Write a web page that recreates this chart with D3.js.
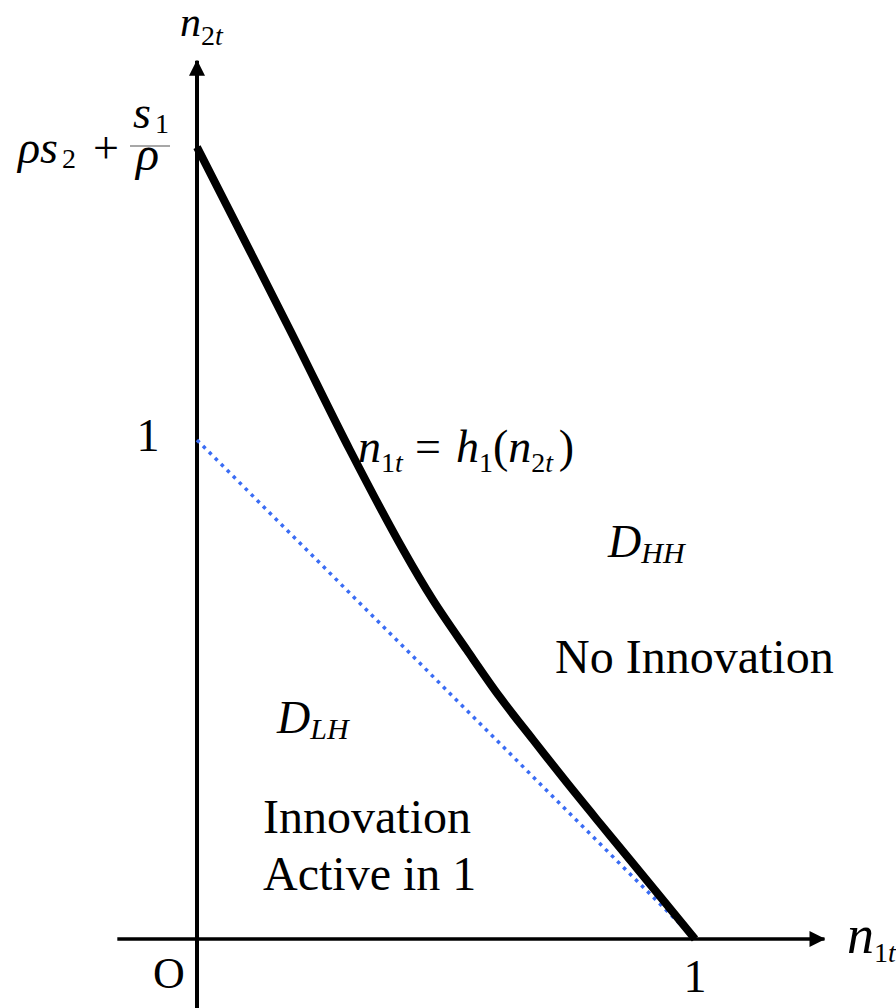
<!DOCTYPE html>
<html>
<head>
<meta charset="utf-8">
<script src="https://cdn.jsdelivr.net/npm/d3@7"></script>
<style>
  html, body { margin: 0; padding: 0; background: #fff; }
  svg text { font-family: "Liberation Serif", "Times New Roman", serif; fill: #000; }
</style>
</head>
<body>
<script>
"use strict";
// boundary curve n1t = h1(n2t)
const curveN1 = [0, 0.187, 0.307, 0.414, 0.474, 0.542, 0.608, 0.675, 0.743, 0.809, 0.87, 1]
const curveN2 = [1.587, 1.22, 0.98, 0.78, 0.679, 0.579, 0.485, 0.399, 0.313, 0.232, 0.158, 0]
// dotted line n1 + n2 = 1
const lineN1 = [0, 1]
const lineN2 = [1, 0]
// axis extents in data units
const xAxisExtent = [-0.16, 1.26]
const yAxisExtent = [-0.14, 1.76]

const measurements = { width: 896, height: 1008 }

const svg = d3.select("body").append("svg")
    .attr("width", measurements.width)
    .attr("height", measurements.height)

const x = d3.scaleLinear().domain([0, 1]).range([197, 695])
const y = d3.scaleLinear().domain([0, 1]).range([939, 440])

// arrow heads
svg.append("defs").append("marker")
    .attr("id", "arrow")
    .attr("viewBox", "0 0 16 16")
    .attr("refX", 15).attr("refY", 8)
    .attr("markerWidth", 16).attr("markerHeight", 16)
    .attr("markerUnits", "userSpaceOnUse")
    .attr("orient", "auto")
  .append("path")
    .attr("d", "M0,0 L16,8 L0,16 Z")
    .attr("fill", "#000")

// axes
svg.append("line")
    .attr("x1", x(xAxisExtent[0])).attr("x2", x(xAxisExtent[1]))
    .attr("y1", y(0)).attr("y2", y(0))
    .attr("stroke", "#000").attr("stroke-width", 3.5)
    .attr("marker-end", "url(#arrow)")
svg.append("line")
    .attr("x1", x(0)).attr("x2", x(0))
    .attr("y1", y(yAxisExtent[0])).attr("y2", y(yAxisExtent[1]))
    .attr("stroke", "#000").attr("stroke-width", 4)
    .attr("marker-end", "url(#arrow)")

// dotted line
svg.append("path")
    .datum(d3.zip(lineN1, lineN2))
    .attr("d", d3.line().x(d => x(d[0])).y(d => y(d[1])))
    .attr("fill", "none")
    .attr("stroke", "#3a6cf4")
    .attr("stroke-width", 3.5)
    .attr("stroke-dasharray", "3.5,5")

// boundary curve
svg.append("path")
    .datum(d3.zip(curveN1, curveN2))
    .attr("d", d3.line().curve(d3.curveCatmullRom).x(d => x(d[0])).y(d => y(d[1])))
    .attr("fill", "none")
    .attr("stroke", "#000")
    .attr("stroke-width", 8)

// text made of pieces: [string, size, italic, baseline shift]
function put(px, py, pieces) {
    const t = svg.append("text").attr("x", px).attr("y", py)
    pieces.forEach(p => {
        t.append("tspan")
            .attr("font-size", p[1])
            .attr("font-style", p[2] ? "italic" : "normal")
            .attr("y", py + (p[3] || 0))
            .text(p[0])
    })
    return t
}

// axis titles
put(180, 36, [["n", 42, true], ["2", 28, false, 9], ["t", 28, true, 9]])
put(847, 953, [["n", 54, true], ["1", 28, false, 9], ["t", 28, true, 9]])

// tick labels
svg.append("text").attr("x", x(0) - 28).attr("y", 988).attr("font-size", 44)
    .attr("text-anchor", "middle").text("O")
svg.append("text").attr("x", x(1)).attr("y", 992).attr("font-size", 46)
    .attr("text-anchor", "middle").text("1")
svg.append("text").attr("x", 148).attr("y", y(1) + 11).attr("font-size", 46)
    .attr("text-anchor", "middle").text("1")

// intercept label  rho s2 + s1 / rho
put(18, 163, [["ρs", 46, true], ["\u2009", 20, false], ["2", 28, false, 5]])
put(93, 163, [["+", 46, false]])
svg.append("line")
    .attr("x1", 130).attr("x2", 170)
    .attr("y1", 146).attr("y2", 146)
    .attr("stroke", "#8a8a8a").attr("stroke-width", 1.5)
put(133, 128, [["s", 46, true], ["\u2009", 20, false], ["1", 28, false, 5]])
put(136, 170, [["ρ", 48, true]])

// equation label
put(358, 462, [["n", 46, true], ["1", 28, false, 10], ["t", 28, true, 10]])
put(415, 462, [["=", 46, false]])
put(456, 462, [["h", 46, true], ["1", 28, false, 10], ["(", 46, false, 0], ["n", 46, true, 0],
    ["2", 28, false, 10], ["t", 28, true, 10], ["\u2009", 28, false, 10], [")", 46, false, 0]])

// region labels
put(608, 557, [["D", 46, true], ["HH", 30, true, 6]])
put(555, 673, [["No Innovation", 48, false]])
put(277, 733, [["D", 46, true], ["LH", 30, true, 6]])
put(263, 833, [["Innovation", 48, false]])
put(263, 890, [["Active in 1", 48, false]])
</script>
</body>
</html>
